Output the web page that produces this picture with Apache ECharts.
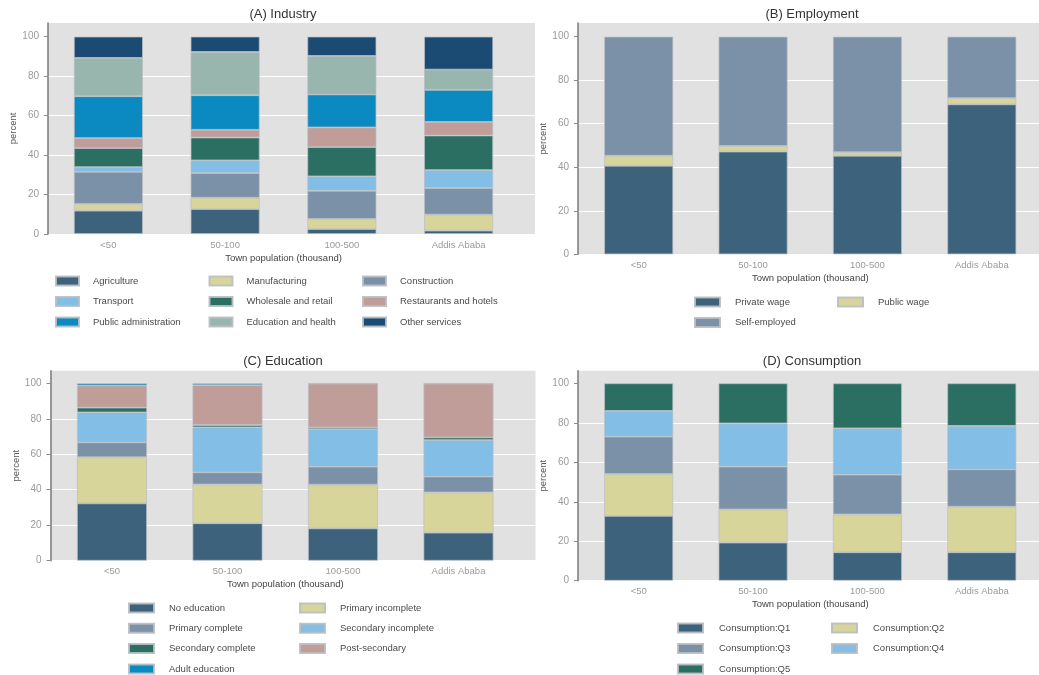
<!DOCTYPE html>
<html>
<head>
<meta charset="utf-8">
<script src="https://cdn.jsdelivr.net/npm/echarts@6/dist/echarts.min.js"></script>
<style>
  html, body { margin: 0; padding: 0; background: #ffffff; }
  #chart { width: 1039px; height: 675px; }
</style>
</head>
<body>
<div id="chart"></div>
<script>
// ---- Categories and tick labels ----
const towns = ['<50', '50-100', '100-500', 'Addis Ababa'];
const percentTicks = [0, 20, 40, 60, 80, 100];

// ---- (A) Industry, percent of workers ----
const agriculture      = [11.8, 12.6,  2.5,  1.7];
const manufacturing    = [ 3.5,  5.8,  5.1,  8.1];
const construction     = [16.2, 12.5, 14.3, 13.5];
const transport        = [ 2.4,  6.4,  7.3,  9.1];
const wholesaleRetail  = [ 9.6, 11.6, 14.8, 17.5];
const restaurantsHotels= [ 5.1,  3.9, 10.0,  6.9];
const publicAdmin      = [21.2, 17.5, 16.7, 16.2];
const educationHealth  = [19.4, 21.9, 19.5, 10.3];
const otherServices    = [10.8,  7.8,  9.8, 16.7];

// ---- (B) Employment ----
const privateWage  = [40.7, 47.2, 45.3, 68.9];
const publicWage   = [ 4.6,  2.6,  1.6,  2.9];
const selfEmployed = [54.7, 50.2, 53.1, 28.2];

// ---- (C) Education ----
const noEducation         = [32.3, 21.1, 18.2, 15.8];
const primaryIncomplete   = [26.0, 21.9, 24.7, 22.7];
const primaryComplete     = [ 8.4,  6.8, 10.1,  8.9];
const secondaryIncomplete = [16.9, 25.4, 21.2, 20.6];
const secondaryComplete   = [ 2.7,  1.3,  1.0,  1.5];
const postSecondary       = [12.4, 22.4, 24.6, 30.3];
const adultEducation      = [ 1.3,  1.1,  0.2,  0.2];

// ---- (D) Consumption quintiles ----
const consQ1 = [32.8, 19.3, 14.4, 14.4];
const consQ2 = [21.3, 16.8, 19.2, 23.1];
const consQ3 = [18.9, 21.7, 20.1, 18.9];
const consQ4 = [13.0, 21.9, 23.5, 22.0];
const consQ5 = [14.0, 20.3, 22.8, 21.6];

// ---- Palette ----
const C = {
  slate:  '#3d627c',
  khaki:  '#d8d59b',
  grayBl: '#7b91a8',
  sky:    '#82bee6',
  teal:   '#2b6e62',
  rose:   '#c09d98',
  blue:   '#0a8ac0',
  sage:   '#98b5ae',
  navy:   '#1b4a72'
};

const industry = [
  ['Agriculture', agriculture, C.slate],
  ['Manufacturing', manufacturing, C.khaki],
  ['Construction', construction, C.grayBl],
  ['Transport', transport, C.sky],
  ['Wholesale and retail', wholesaleRetail, C.teal],
  ['Restaurants and hotels', restaurantsHotels, C.rose],
  ['Public administration', publicAdmin, C.blue],
  ['Education and health', educationHealth, C.sage],
  ['Other services', otherServices, C.navy]
];
const employment = [
  ['Private wage', privateWage, C.slate],
  ['Public wage', publicWage, C.khaki],
  ['Self-employed', selfEmployed, C.grayBl]
];
const education = [
  ['No education', noEducation, C.slate],
  ['Primary incomplete', primaryIncomplete, C.khaki],
  ['Primary complete', primaryComplete, C.grayBl],
  ['Secondary incomplete', secondaryIncomplete, C.sky],
  ['Secondary complete', secondaryComplete, C.teal],
  ['Post-secondary', postSecondary, C.rose],
  ['Adult education', adultEducation, C.blue]
];
const consumption = [
  ['Consumption:Q1', consQ1, C.slate],
  ['Consumption:Q2', consQ2, C.khaki],
  ['Consumption:Q3', consQ3, C.grayBl],
  ['Consumption:Q4', consQ4, C.sky],
  ['Consumption:Q5', consQ5, C.teal]
];

// ---- Panel layout (pixels) ----
const FONT = '"Liberation Sans", Arial, Helvetica, sans-serif';
const panels = [
  { title: '(A) Industry', groups: industry, titleX: 283, titleY: 14,
    frame: { left: 48, top: 23, width: 487, height: 211 },
    bars: { left: 50, width: 467 }, barWidth: 69, max: 106.9,
    legend: { x: 55, y: 281, cols: 3, colW: 153.5, rowH: 20.5, sw: 23, sh: 9, gap: 14 } },
  { title: '(B) Employment', groups: employment, titleX: 812, titleY: 14,
    frame: { left: 578, top: 23, width: 470, height: 231.3 },
    bars: { left: 581.5, width: 464 }, barWidth: 69, max: 106.3,
    legend: { x: 694, y: 302, cols: 2, colW: 143, rowH: 20.5, sw: 25, sh: 9, gap: 15 } },
  { title: '(C) Education', groups: education, titleX: 283, titleY: 361,
    frame: { left: 50.5, top: 370.7, width: 485, height: 190 },
    bars: { left: 54.25, width: 462 }, barWidth: 70, max: 107.1,
    legend: { x: 128, y: 608, cols: 2, colW: 171, rowH: 20.3, sw: 25, sh: 9, gap: 15 } },
  { title: '(D) Consumption', groups: consumption, titleX: 812, titleY: 361,
    frame: { left: 578, top: 370.7, width: 470, height: 210 },
    bars: { left: 581.5, width: 464 }, barWidth: 69, max: 106.4,
    legend: { x: 677, y: 628, cols: 2, colW: 154, rowH: 20.5, sw: 25, sh: 9, gap: 16 } }
];

const grid = [], xAxis = [], yAxis = [], series = [], legend = [], graphic = [];

panels.forEach((p, i) => {
  const fi = 2 * i, bi = 2 * i + 1;
  // frame grid: grey plot region, y axis, white gridlines
  grid.push({ left: p.frame.left, top: p.frame.top, width: p.frame.width, height: p.frame.height,
              show: true, backgroundColor: '#e1e1e1', borderWidth: 0 });
  // bar grid: category bands
  grid.push({ left: p.bars.left, top: p.frame.top, width: p.bars.width, height: p.frame.height,
              show: false });

  xAxis.push({ gridIndex: fi, type: 'value', min: 0, max: 1, show: false });
  xAxis.push({
    gridIndex: bi, type: 'category', data: towns,
    axisLine: { show: false }, axisTick: { show: false },
    axisLabel: { color: '#9a9a9a', fontSize: 9.5, fontFamily: FONT, margin: 6 },
    name: 'Town population (thousand)', nameLocation: 'middle', nameGap: 19,
    nameTextStyle: { color: '#444', fontSize: 9.5, fontFamily: FONT }
  });

  yAxis.push({
    gridIndex: fi, type: 'value', min: 0, max: p.max, interval: 20,
    axisLine: { show: true, lineStyle: { color: '#7a7a7a', width: 1.5 } },
    axisTick: { show: true, length: 4, customValues: percentTicks, lineStyle: { color: '#8a8a8a' } },
    axisLabel: { color: '#9a9a9a', fontSize: 10, fontFamily: FONT, margin: 9,
                 customValues: percentTicks },
    splitLine: { show: true, showMaxLine: false, lineStyle: { color: '#ffffff', width: 1 } },
    name: 'percent', nameLocation: 'middle', nameGap: 23,
    nameTextStyle: { color: '#555', fontSize: 9.5, fontFamily: FONT }
  });
  yAxis.push({ gridIndex: bi, type: 'value', min: 0, max: p.max, show: false });

  p.groups.forEach(([name, values, color], k) => {
    series.push({
      name, type: 'bar', stack: 'panel' + i,
      xAxisIndex: bi, yAxisIndex: bi,
      barWidth: p.barWidth,
      itemStyle: { color, borderColor: 'rgba(185,190,195,0.9)', borderWidth: 0.8 },
      emphasis: { disabled: true },
      data: values
    });
    const L = p.legend;
    const col = k % L.cols, row = Math.floor(k / L.cols);
    legend.push({
      data: [name], selectedMode: false, icon: 'rect', padding: 0,
      left: L.x + col * L.colW, top: L.y + row * L.rowH - 5.5,
      itemWidth: L.sw, itemHeight: L.sh,
      textStyle: { color: '#4a4a4a', fontSize: 9.5, fontFamily: FONT, padding: [0, 0, 0, L.gap - 5] }
    });
  });

  graphic.push({
    type: 'text', x: p.titleX, y: p.titleY,
    style: { text: p.title, align: 'center', verticalAlign: 'middle',
             font: '13px ' + FONT, fill: '#333' }
  });
});

const chart = echarts.init(document.getElementById('chart'), null, { renderer: 'canvas' });
chart.setOption({
  backgroundColor: '#ffffff',
  animation: false,
  grid, xAxis, yAxis, series, legend, graphic
});
</script>
</body>
</html>
